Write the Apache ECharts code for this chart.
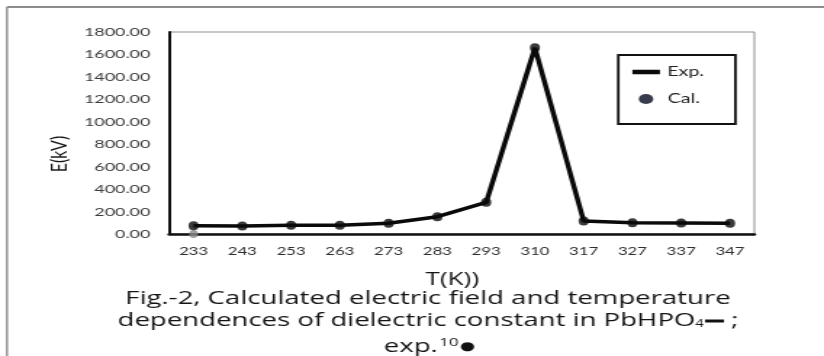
<!DOCTYPE html>
<html><head><meta charset="utf-8">
<script src="https://cdn.jsdelivr.net/npm/echarts@6/dist/echarts.min.js"></script>
<style>
html,body{margin:0;padding:0;background:#fff;overflow:hidden;}
#wrap{width:824px;height:356px;overflow:hidden;position:relative;background:#fff;}
#chart{width:568px;height:356px;transform:scaleX(1.450704);transform-origin:0 0;}
</style></head><body><div id="wrap"><div id="chart"></div></div>
<script>
// ---- data ----
const categories = ['233','243','253','263','273','283','293','310','317','327','337','347'];
const expValues = [74, 72, 77, 77, 95, 154, 282, 1660, 116, 101, 98, 95];
const calValues = [74, 72, 77, 77, 95, 154, 282, 1660, 116, 101, 98, 95];
const calExtraValues = [0, null, null, null, null, null, null, null, null, null, null, null];
const yMin = 0, yMax = 1800, yInterval = 200;
const xName = 'T(K))';
const yName = 'E(kV)';
const captionLine1 = 'Fig.-2, Calculated electric field and temperature';

const FONT = 'Lato';
const CAP = 'Open Sans';
const chart = echarts.init(document.getElementById('chart'), null, {renderer:'canvas'});
const option = {
  animation: false,
  backgroundColor: '#fff',
  grid: {left: 116.6, right: 48, top: 32, bottom: 122, show: true, borderColor: '#8f8f8f', borderWidth: 1, backgroundColor: 'transparent'},
  legend: [
    {data: [{name: 'Exp.', icon: 'rect'}], left: 435.9, top: 65, padding: 0, itemWidth: 19, itemHeight: 4.5,
     itemGap: 0, textStyle: {fontFamily: FONT, fontSize: 13.5, color: '#222'}},
    {data: [{name: 'Cal.', icon: 'circle', itemStyle: {color: '#050a20'}}], left: 440.3, top: 92, padding: 0, itemWidth: 20, itemHeight: 10,
     itemGap: 0, textStyle: {fontFamily: FONT, fontSize: 13.5, color: '#222'}}
  ],
  xAxis: {
    type: 'category', data: categories, boundaryGap: true,
    axisLine: {lineStyle: {color: '#111', width: 2.5}},
    axisTick: {show: false},
    axisLabel: {fontFamily: FONT, fontSize: 11.5, color: '#2e2e2e', margin: 11},
    splitLine: {show: false},
    name: xName, nameLocation: 'middle', nameGap: 37,
    nameTextStyle: {fontFamily: CAP, fontSize: 18, color: '#161616', padding: [0, 13, 0, 0]}
  },
  yAxis: {
    type: 'value', min: yMin, max: yMax, interval: yInterval,
    axisLine: {show: true, lineStyle: {color: '#111', width: 2}},
    axisTick: {show: false},
    splitLine: {show: false},
    axisLabel: {fontFamily: FONT, fontSize: 12.3, color: '#3c3c3c', margin: 13,
      formatter: v => v.toFixed(2)}
  },
  series: [
    {name: 'Exp.', type: 'line', data: expValues, showSymbol: false, symbol: 'none',
     lineStyle: {color: '#0a0a0a', width: 3.5}, itemStyle: {color: '#0a0a0a'}, z: 2},
    {name: 'Cal.', type: 'scatter', data: calValues, symbol: 'circle', symbolSize: [7, 9],
     itemStyle: {color: '#0a0a0a'}, z: 3},
    {name: 'Cal. extra', type: 'scatter', data: calExtraValues, symbol: 'circle', symbolSize: [6, 8],
     itemStyle: {color: '#8a8a8a'}, z: 1}
  ],
  graphic: [
    {type: 'line', shape: {x1: 4.8, y1: 7, x2: 568, y2: 7}, style: {stroke: '#8c8c8c', lineWidth: 2}, silent: true},
    {type: 'line', shape: {x1: 4.8, y1: 7, x2: 4.8, y2: 356}, style: {stroke: '#8c8c8c', lineWidth: 1.4}, silent: true},
    {type: 'rect', shape: {x: 426.2, y: 55, width: 80.7, height: 69}, style: {fill: 'transparent', stroke: '#111', lineWidth: 1.8}, silent: true, z: 10},
    {type: 'text', x: 40.7, y: 154, rotation: Math.PI / 2,
     style: {text: yName, fontFamily: FONT, fontSize: 16, fill: '#161616', align: 'center', verticalAlign: 'middle'}},
    {type: 'text', x: 295, y: 299,
     style: {text: captionLine1, fontFamily: CAP, fontSize: 19, fill: '#141414', align: 'center', verticalAlign: 'middle'}},
    {type: 'text', x: 295, y: 321,
     style: {text: 'dependences of dielectric constant in PbHPO{sub|4}{bar|} ;', fontFamily: CAP, fontSize: 19, fill: '#141414', align: 'center', verticalAlign: 'middle',
       rich: {sub: {fontFamily: CAP, fontSize: 10, fill: '#141414', padding: [7, 1, 0, 0]},
              bar: {width: 13, height: 3, backgroundColor: '#111', padding: [0,0,0,0]}}}},
    {type: 'text', x: 296, y: 347,
     style: {text: 'exp.{sup|10}{dot|●}', fontFamily: CAP, fontSize: 19, fill: '#141414', align: 'center', verticalAlign: 'middle',
       rich: {sup: {fontFamily: CAP, fontSize: 11.5, fill: '#141414', padding: [0, 1, 9, 1]},
              dot: {fontFamily: 'DejaVu Sans', fontSize: 12, fill: '#111'}}}}
  ]
};
chart.setOption(option);
</script></body></html>
